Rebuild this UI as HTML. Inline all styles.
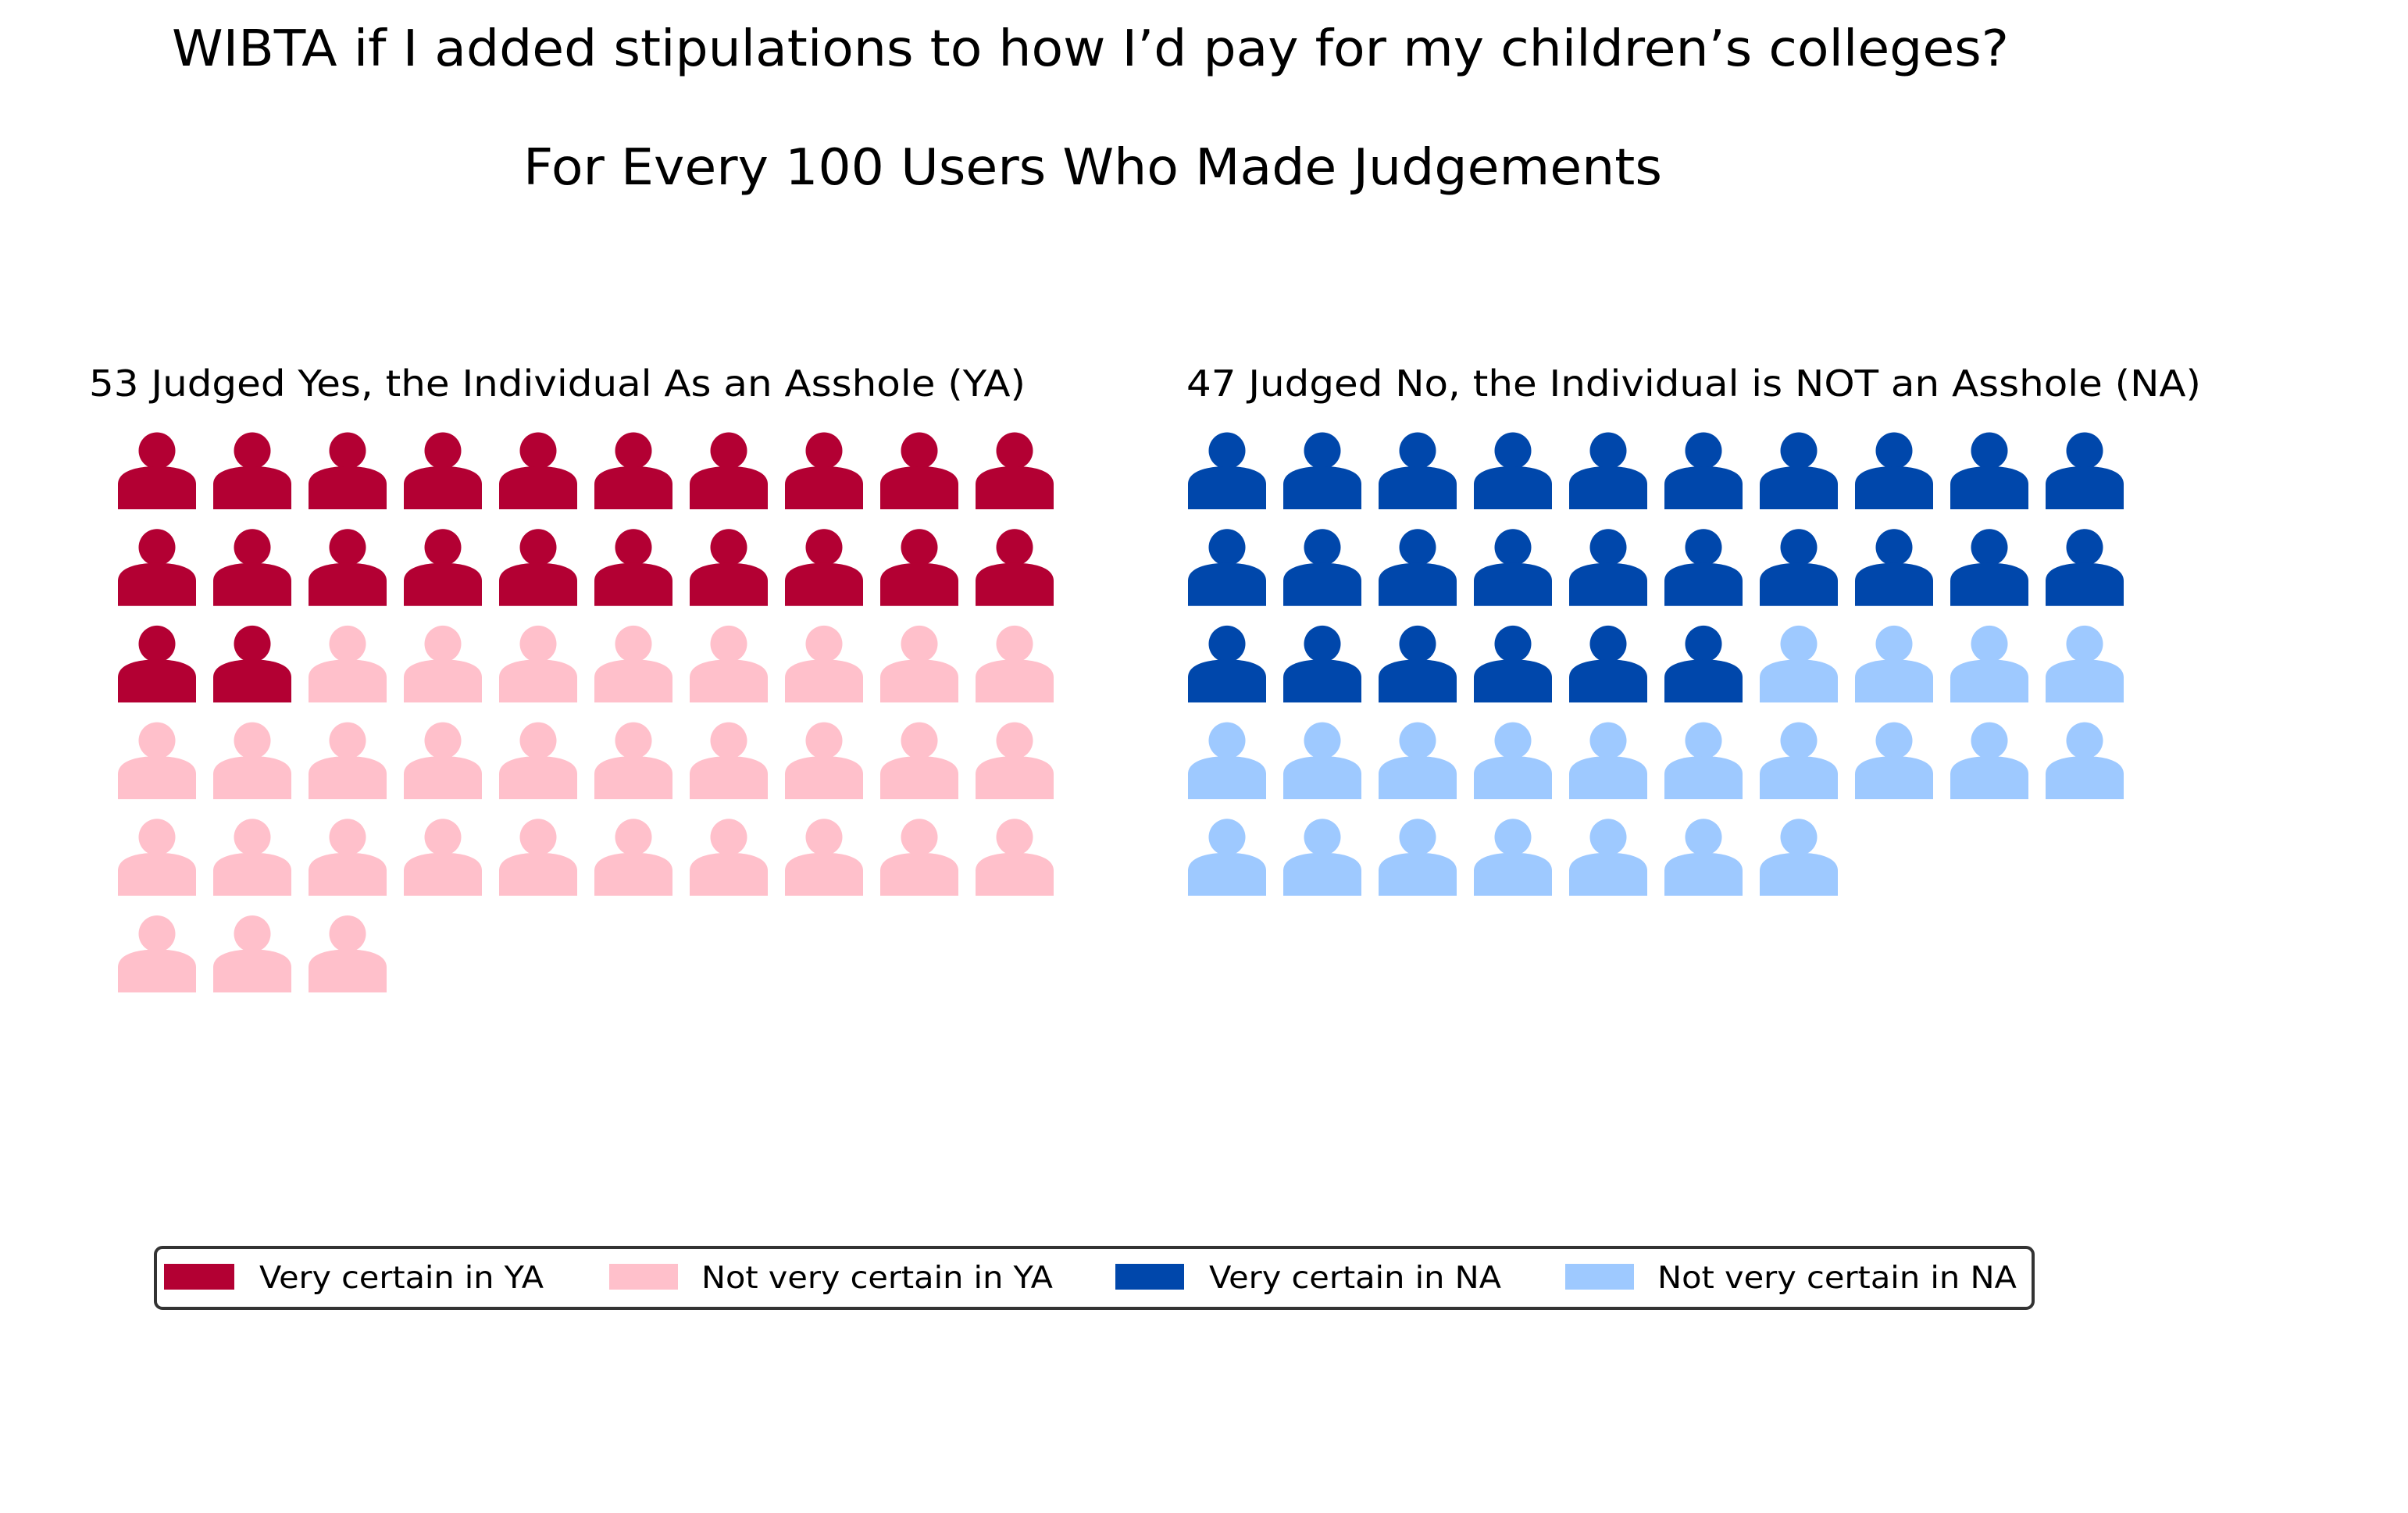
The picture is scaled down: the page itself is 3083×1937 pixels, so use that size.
<!DOCTYPE html>
<html><head><meta charset="utf-8">
<style>
html,body{margin:0;padding:0;background:#fff;}
svg{display:block;font-family:"DejaVu Sans","Liberation Sans",sans-serif;}
</style></head>
<body>
<svg id="chart" width="3083" height="1937" viewBox="0 0 3083 1937" xmlns="http://www.w3.org/2000/svg">
  <text x="1396" y="84" font-size="64" text-anchor="middle" textLength="2352" lengthAdjust="spacingAndGlyphs">WIBTA if I added stipulations to how I’d pay for my children’s colleges?</text>
  <text x="1399" y="236" font-size="64" text-anchor="middle" textLength="1458" lengthAdjust="spacingAndGlyphs">For Every 100 Users Who Made Judgements</text>
  <text x="114" y="507" font-size="46" textLength="1199" lengthAdjust="spacingAndGlyphs">53 Judged Yes, the Individual As an Asshole (YA)</text>
  <text x="1519" y="507" font-size="46" textLength="1299" lengthAdjust="spacingAndGlyphs">47 Judged No, the Individual is NOT an Asshole (NA)</text>
  <g id="icons"></g>
  <g>
    <rect x="199" y="1597" width="2404" height="78" rx="9" fill="#fff" stroke="#333" stroke-width="4"/>
    <rect x="210" y="1618" width="90" height="33" fill="#b30033"/>
    <text x="332" y="1649" font-size="39" textLength="364" lengthAdjust="spacingAndGlyphs">Very certain in YA</text>
    <rect x="780" y="1618" width="88" height="33" fill="#ffc0cb"/>
    <text x="898" y="1649" font-size="39" textLength="450" lengthAdjust="spacingAndGlyphs">Not very certain in YA</text>
    <rect x="1428" y="1618" width="88" height="33" fill="#0047ab"/>
    <text x="1548" y="1649" font-size="39" textLength="374" lengthAdjust="spacingAndGlyphs">Very certain in NA</text>
    <rect x="2004" y="1618" width="88" height="33" fill="#9ec9ff"/>
    <text x="2122" y="1649" font-size="39" textLength="460" lengthAdjust="spacingAndGlyphs">Not very certain in NA</text>
  </g>
</svg>
<script>
const panels = ["YA", "NA"];
const veryCertain = [22, 26];
const notVeryCertain = [31, 21];
const darkColors = ["#b30033", "#0047ab"];
const lightColors = ["#ffc0cb", "#9ec9ff"];

const NS = "http://www.w3.org/2000/svg";
const g = document.getElementById("icons");
const panelX = [151, 1521];
const colPitch = 122, rowPitch = 123.7, firstBottom = 652, cols = 10;
function colX(p, i) { return panelX[p] + (i % cols) * colPitch; }
function rowY(i) { return firstBottom + Math.floor(i / cols) * rowPitch; }

panels.forEach(function (name, p) {
  const total = veryCertain[p] + notVeryCertain[p];
  for (let i = 0; i < total; i++) {
    const x = colX(p, i), y = rowY(i);
    const dark = i < veryCertain[p];
    const color = dark ? darkColors[p] : lightColors[p];
    const icon = document.createElementNS(NS, "g");
    
    
    icon.setAttribute("fill", color);
    const head = document.createElementNS(NS, "circle");
    head.setAttribute("cx", x + 50);
    head.setAttribute("cy", y - 75);
    head.setAttribute("r", 23.5);
    const body = document.createElementNS(NS, "path");
    body.setAttribute("d", "M" + x + "," + y + " V" + (y - 32) +
      " C" + x + "," + (y - 49) + " " + (x + 24) + "," + (y - 55) + " " + (x + 50) + "," + (y - 55) +
      " C" + (x + 76) + "," + (y - 55) + " " + (x + 100) + "," + (y - 49) + " " + (x + 100) + "," + (y - 32) +
      " V" + y + " Z");
    icon.appendChild(head);
    icon.appendChild(body);
    g.appendChild(icon);
  }
});
</script>
</body></html>
